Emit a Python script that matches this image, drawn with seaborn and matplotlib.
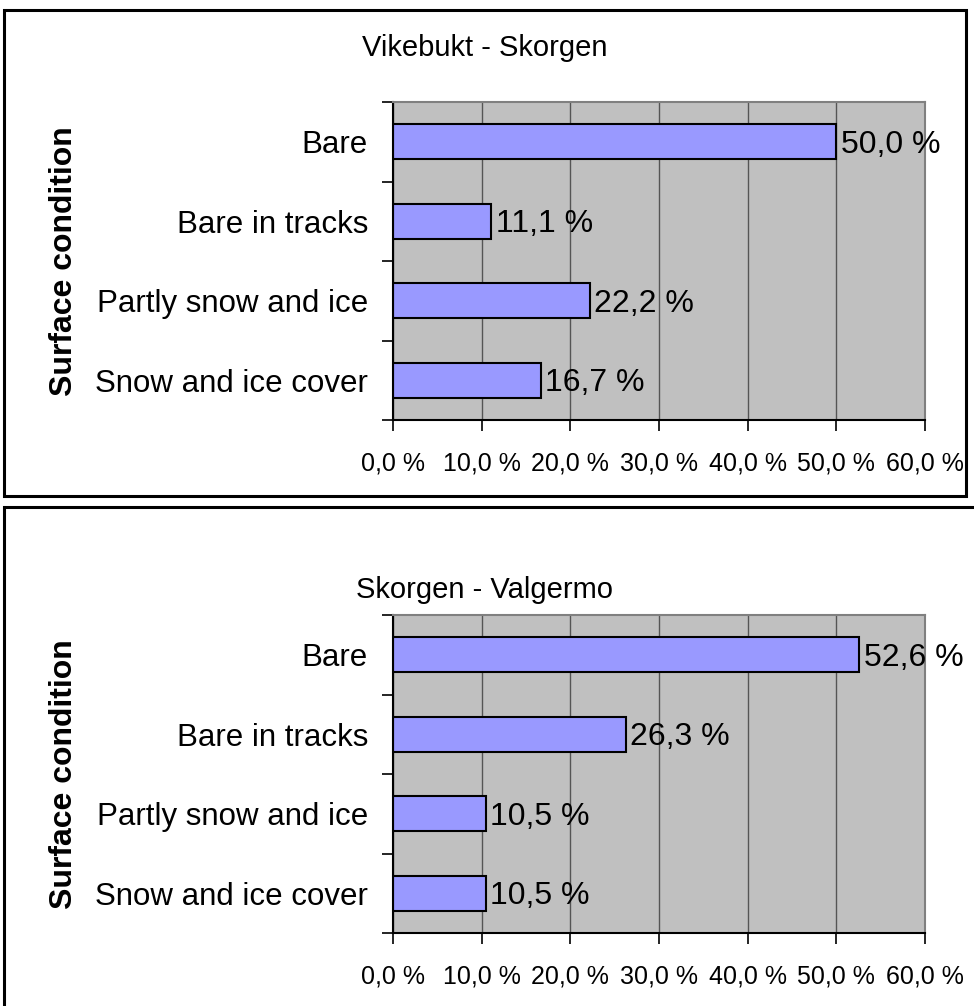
import matplotlib
matplotlib.use("Agg")
import matplotlib.pyplot as plt
from matplotlib.patches import Rectangle
from matplotlib.ticker import FuncFormatter, FixedLocator
import pandas as pd
import seaborn as sns

# Road surface condition shares (%) for two road sections
categories = ["Bare", "Bare in tracks", "Partly snow and ice", "Snow and ice cover"]
vikebukt_skorgen = [50.0, 11.1, 22.2, 16.7]
skorgen_valgermo = [52.6, 26.3, 10.5, 10.5]
section_titles = ["Vikebukt - Skorgen", "Skorgen - Valgermo"]
x_ticks = [0, 10, 20, 30, 40, 50, 60]

sns.set_theme(style="white")
plt.rcParams["font.family"] = ["Liberation Sans", "DejaVu Sans"]

W, H = 974, 1006
fig = plt.figure(figsize=(W / 100, H / 100), dpi=100)
fig.patch.set_facecolor("white")


def fig_box(left, top, right, bottom):
    """Convert pixel box (from top-left) to figure fraction [l, b, w, h]."""
    return [left / W, 1 - bottom / H, (right - left) / W, (bottom - top) / H]


def pct(v, _pos=None):
    return f"{v:.1f} %".replace(".", ",")


panels = [
    (section_titles[0], vikebukt_skorgen, (393, 102, 925, 420), (4, 10, 966, 496), 48),
    (section_titles[1], skorgen_valgermo, (393, 615, 925, 933), (4, 507, 990, 1020), 590),
]

for title, values, ax_px, frame_px, title_y in panels:
    # panel frame
    fl, ft, fr, fb = frame_px
    fig.patches.append(Rectangle((fl / W, 1 - fb / H), (fr - fl) / W, (fb - ft) / H,
                                 transform=fig.transFigure, fill=False,
                                 edgecolor="black", linewidth=2.2, zorder=0))
    fig.text(((fl + min(fr, 966)) / 2) / W, 1 - title_y / H, title,
             ha="center", va="center", fontsize=21, color="black")

    ax = fig.add_axes(fig_box(*ax_px))
    df = pd.DataFrame({"condition": categories, "share": values})
    sns.barplot(data=df, x="share", y="condition", orient="h", ax=ax,
                color="#9999FF", edgecolor="black", linewidth=1.5,
                width=0.44, saturation=1)

    ax.set_facecolor("#C0C0C0")
    ax.set_xlim(0, 60)
    ax.set_ylim(len(categories) - 0.5, -0.5)
    ax.xaxis.set_major_locator(FixedLocator(x_ticks))
    ax.xaxis.set_major_formatter(FuncFormatter(pct))
    ax.grid(axis="x", color="#555555", linewidth=1.0)
    ax.grid(axis="y", visible=False)
    ax.set_axisbelow(True)

    for side in ("left", "bottom"):
        ax.spines[side].set_color("black")
        ax.spines[side].set_linewidth(1.5)
        ax.spines[side].set_visible(True)
    for side in ("top", "right"):
        ax.spines[side].set_color("#808080")
        ax.spines[side].set_linewidth(1.5)
        ax.spines[side].set_visible(True)

    # category boundary ticks on the value axis
    ax.yaxis.set_minor_locator(FixedLocator([i - 0.5 for i in range(len(categories) + 1)]))
    ax.tick_params(axis="y", which="minor", left=True, length=8, width=1.2,
                   color="black", direction="out")
    ax.tick_params(axis="y", which="major", left=True, length=0, pad=18,
                   labelsize=22.5, labelcolor="black")
    ax.tick_params(axis="x", which="major", bottom=True, length=8, width=1.2,
                   color="black", direction="out", pad=15, labelsize=18,
                   labelcolor="black")

    ax.set_xlabel("")
    ax.set_ylabel("Surface condition", fontsize=23, fontweight="bold", color="black")
    ax.yaxis.set_label_coords((79 - 393) / 532, 0.5)

    for i, v in enumerate(values):
        ax.annotate(pct(v), xy=(v, i), xytext=(3, -2), textcoords="offset points",
                    ha="left", va="center", fontsize=23, color="black",
                    annotation_clip=False)

fig.savefig("out.png", dpi=100)
